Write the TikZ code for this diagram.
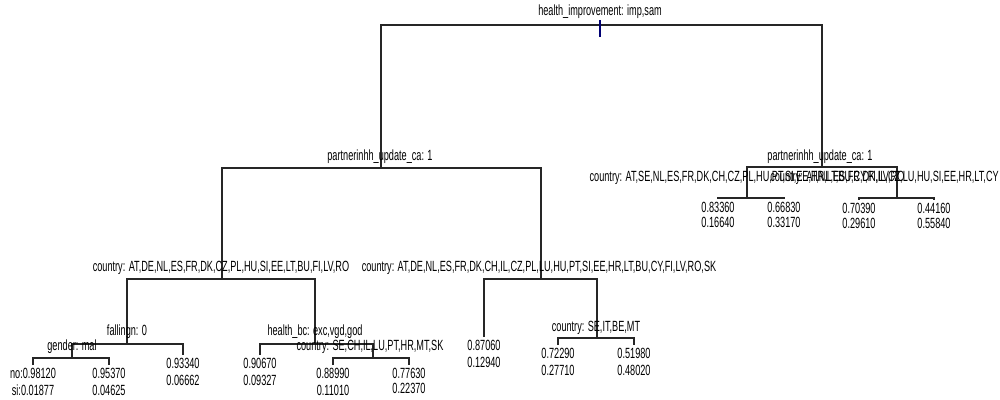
\documentclass[tikz,border=0pt]{standalone}
\usepackage{fontspec}
\setmainfont[FakeStretch=0.62]{Liberation Sans}
\usepackage{tikz}

\begin{document}
\begin{tikzpicture}[
    x=0.025cm, y=-0.025cm,
    split/.style={font=\fontsize{10.5}{10}\selectfont, inner sep=0pt},
    leaf/.style={font=\fontsize{10.5}{12}\selectfont, align=center, anchor=north, inner sep=2pt},
    tight/.style={font=\fontsize{10.5}{10.5}\selectfont},
    edge/.style={draw=black!85, line width=0.9pt}
]
    \useasboundingbox (0,0) rectangle (1000,400);

    \coordinate (root) at (600,25);
    \coordinate (A) at (381,168);
    \coordinate (B) at (822,167);
    \coordinate (C) at (222,279);
    \coordinate (D) at (541,279);
    \coordinate (E) at (127,344);
    \coordinate (F) at (315,344);
    \coordinate (G) at (72,358);
    \coordinate (H) at (373,358);
    \coordinate (I) at (597,338);
    \coordinate (J) at (747,198);
    \coordinate (K) at (897,198);

    \node[leaf] (l1) at (33,365) {no:0.98120\\si:0.01877};
    \node[leaf] (l2) at (109,365) {0.95370\\0.04625};
    \node[leaf] (l3) at (183,355) {0.93340\\0.06662};
    \node[leaf] (l4) at (260,355) {0.90670\\0.09327};
    \node[leaf] (l5) at (333,365) {0.88990\\0.11010};
    \node[leaf, tight] (l6) at (409,365) {0.77630\\0.22370};
    \node[leaf] (l7) at (484,337) {0.87060\\0.12940};
    \node[leaf] (l8) at (558,345) {0.72290\\0.27710};
    \node[leaf] (l9) at (634,345) {0.51980\\0.48020};
    \node[leaf, tight] (l10) at (718,199) {0.83360\\0.16640};
    \node[leaf, tight] (l11) at (784,199) {0.66830\\0.33170};
    \node[leaf, tight] (l12) at (859,200) {0.70390\\0.29610};
    \node[leaf, tight] (l13) at (934,200) {0.44160\\0.55840};

    \draw[edge] (A) |- (root) -| (B);
    \draw[edge] (C) |- (A) -| (D);
    \draw[edge] (J) |- (B) -| (K);
    \draw[edge] (E) |- (C) -| (F);
    \draw[edge] (l7.north) |- (D) -| (I);
    \draw[edge] (G) |- (E) -| (l3.north);
    \draw[edge] (l1.north) |- (G) -| (l2.north);
    \draw[edge] (l4.north) |- (F) -| (H);
    \draw[edge] (l5.north) |- (H) -| (l6.north);
    \draw[edge] (l8.north) |- (I) -| (l9.north);
    \draw[edge] (l10.north) |- (J) -| (l11.north);
    \draw[edge] (l12.north) |- (K) -| (l13.north);
    \draw[draw=blue!45!black, line width=0.8pt] ([yshift=3.5pt]root) -- ([yshift=-8.5pt]root);

    \node[split] (root label) at (600,12) {health\_improvement: imp,sam};
    \node[split] (A label) at (380,157) {partnerinhh\_update\_ca: 1};
    \node[split] (B label) at (820,157) {partnerinhh\_update\_ca: 1};
    \node[split] (C label) at (221,268) {country: AT,DE,NL,ES,FR,DK,CZ,PL,HU,SI,EE,LT,BU,FI,LV,RO};
    \node[split] (D label) at (539,268) {country: AT,DE,NL,ES,FR,DK,CH,IL,CZ,PL,LU,HU,PT,SI,EE,HR,LT,BU,CY,FI,LV,RO,SK};
    \node[split] (E label) at (127,332) {fallingn: 0};
    \node[split] (F label) at (315,332) {health\_bc: exc,vgd,god};
    \node[split] (G label) at (72,347) {gender: mal};
    \node[split] (H label) at (370,347) {country: SE,CH,IL,LU,PT,HR,MT,SK};
    \node[split] (I label) at (596,328) {country: SE,IT,BE,MT};
    \node[split] (J label) at (747,178) {country: AT,SE,NL,ES,FR,DK,CH,CZ,PL,HU,PT,SI,EE,HR,LT,BU,CY,FI,LV,RO};
    \node[split, anchor=east] (K label) at (999,178) {country: AT,NL,ES,FR,DK,IL,CZ,LU,HU,SI,EE,HR,LT,CY};
\end{tikzpicture}
\end{document}
